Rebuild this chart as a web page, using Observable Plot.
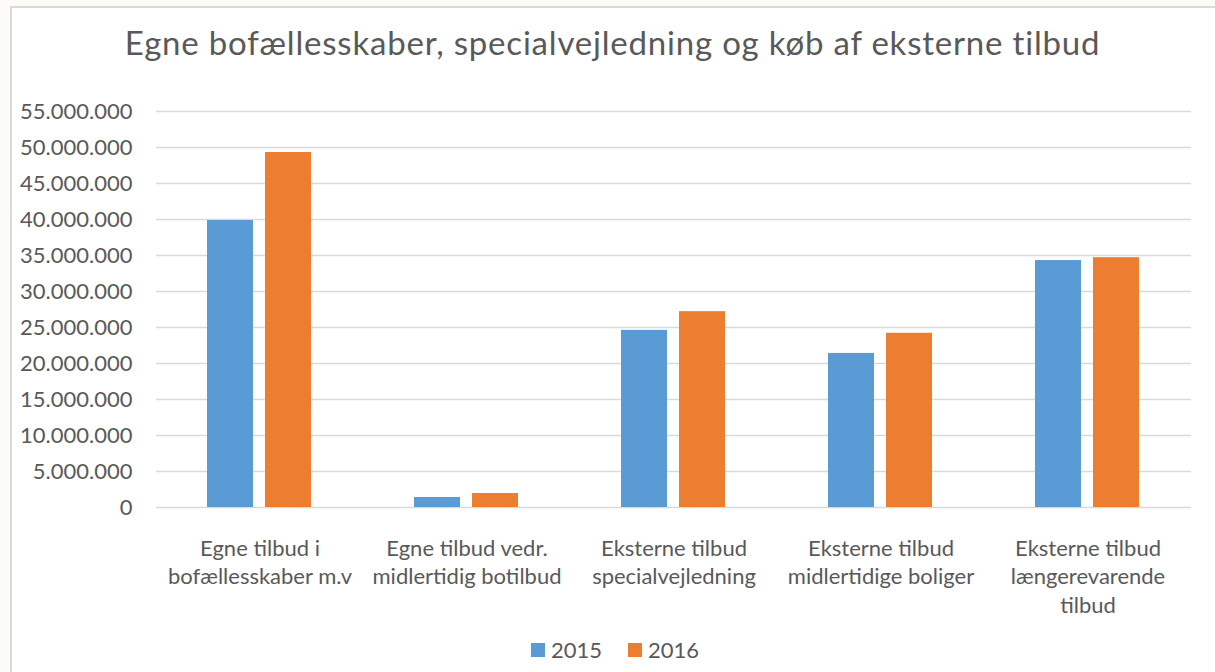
<!DOCTYPE html>
<html>
<head>
<meta charset="utf-8">
<script src="https://cdn.jsdelivr.net/npm/d3@7"></script>
<script src="https://cdn.jsdelivr.net/npm/@observablehq/plot@0.6"></script>
<style>
  html, body { margin: 0; padding: 0; }
  body { background: #fdfbf7; width: 1215px; height: 672px; overflow: hidden; position: relative; font-family: Lato, "Open Sans", sans-serif; }
  #frame { position: absolute; left: 10px; top: 6px; width: 1230px; height: 690px; border: 2px solid #d9d9d9; background: #fff; }
  #title { position: absolute; left: 0; top: 26px; width: 1225px; text-align: center; font-size: 33px; letter-spacing: 0.8px; line-height: 33px; color: #595959; white-space: nowrap; }
  #chart { position: absolute; left: 0; top: 0; }
  #legend { position: absolute; left: 531px; top: 636px; display: flex; align-items: center; font-size: 22px; color: #595959; }
  .sw { width: 14px; height: 14px; display: inline-block; margin-right: 6px; }
  .item { display: flex; align-items: center; margin-right: 26px; }
</style>
</head>
<body>
<div id="frame"></div>
<div id="title"></div>
<div id="chart"></div>
<div id="legend"></div>
<script>
const titleText = "Egne bofællesskaber, specialvejledning og køb af eksterne tilbud";
const categories = [
  "Egne tilbud i\nbofællesskaber m.v",
  "Egne tilbud vedr.\nmidlertidig botilbud",
  "Eksterne tilbud\nspecialvejledning",
  "Eksterne tilbud\nmidlertidige boliger",
  "Eksterne tilbud\nlængerevarende\ntilbud"
];
const years = ["2015", "2016"];
const values2015 = [39860000, 1390000, 24600000, 21400000, 34300000];
const values2016 = [49300000, 1940000, 27200000, 24200000, 34700000];
const yTicks = [0, 5000000, 10000000, 15000000, 20000000, 25000000, 30000000, 35000000, 40000000, 45000000, 50000000, 55000000];
const colors = ["#5b9bd5", "#ed7d31"];

const data = [];
categories.forEach((c, i) => {
  data.push({category: c, year: years[0], value: values2015[i]});
  data.push({category: c, year: years[1], value: values2016[i]});
});

const fmt = d3.formatLocale({decimal: ",", thousands: ".", grouping: [3], currency: ["", ""]}).format(",d");

document.getElementById("title").textContent = titleText;

const chart = Plot.plot({
  width: 1215,
  height: 630,
  marginLeft: 155,
  marginRight: 24,
  marginTop: 111,
  marginBottom: 123,
  style: {background: "transparent", fontFamily: "Lato, 'Open Sans', sans-serif", color: "#595959", overflow: "visible"},
  fx: {domain: categories, padding: 0, label: null},
  x: {domain: years, paddingInner: 0.2, paddingOuter: 0.86, axis: null},
  y: {domain: [0, 55000000], label: null},
  color: {domain: years, range: colors},
  marks: [
    Plot.gridY(yTicks, {stroke: "#d9d9d9", strokeOpacity: 1, strokeWidth: 1.5}),
    Plot.axisY(yTicks, {tickSize: 0, tickPadding: 24, tickFormat: fmt, fontSize: 22, fill: "#595959", label: null}),
    Plot.axisFx({anchor: "bottom", tickSize: 0, tickPadding: 28, fontSize: 22, lineHeight: 1.3, fill: "#595959", label: null}),
    Plot.barY(data, {fx: "category", x: "year", y: "value", fill: "year"})
  ]
});
document.getElementById("chart").appendChild(chart);

const legend = document.getElementById("legend");
years.forEach((y, i) => {
  const item = document.createElement("div");
  item.className = "item";
  const sw = document.createElement("span");
  sw.className = "sw";
  sw.style.background = colors[i];
  const t = document.createElement("span");
  t.textContent = y;
  item.appendChild(sw);
  item.appendChild(t);
  legend.appendChild(item);
});
</script>
</body>
</html>
